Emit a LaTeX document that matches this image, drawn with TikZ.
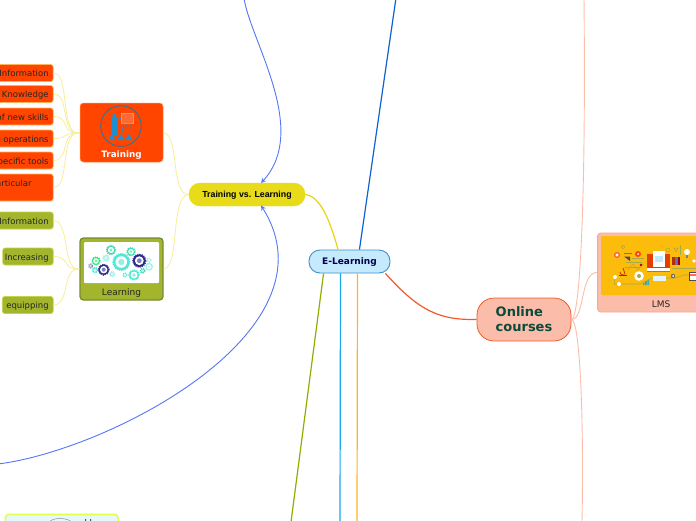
\documentclass[tikz,border=0pt]{standalone}
\usepackage{fontspec}
\setmainfont{DejaVu Sans}
\newfontfamily\libsans{Liberation Sans}
\usetikzlibrary{arrows.meta}
\definecolor{orleaf}{HTML}{FF4500}
\definecolor{orline}{HTML}{FFB25A}
\definecolor{grleaf}{HTML}{A2B52C}
\definecolor{grline}{HTML}{C6D34A}
\definecolor{salmon}{HTML}{FBBDA9}
\definecolor{salline}{HTML}{FBA78F}
\definecolor{redline}{HTML}{F4582A}
\definecolor{yel}{HTML}{E8DC1A}
\definecolor{palelink}{HTML}{F8EE9A}
\definecolor{relink}{HTML}{5577F5}
\definecolor{iconblue}{HTML}{1F8FD0}
\definecolor{teal1}{HTML}{4FE8D6}
\definecolor{teal2}{HTML}{3DDDB0}
\definecolor{navy1}{HTML}{2E2A8C}
\definecolor{lmsbg}{HTML}{FBBC0C}
\definecolor{linkblue}{HTML}{0F62D0}
\definecolor{linkolive}{HTML}{8DB000}
\definecolor{linkcyan}{HTML}{18A8E8}
\definecolor{linkorange}{HTML}{FFB428}
\definecolor{elfill}{HTML}{C5EAFD}
\definecolor{elline}{HTML}{3E92C8}
\definecolor{learnline}{HTML}{7A8A35}
\definecolor{wire}{HTML}{A9A84A}
\definecolor{onlinetext}{HTML}{0B4A3C}
\tikzset{
  leaf/.style={draw=#1,line width=0.7pt,rounded corners=2.5pt,font=\fontsize{8.5}{10}\selectfont,text=black!85,anchor=east,inner sep=0pt,minimum height=17pt,text height=8pt,text depth=1pt},
  orangeleaf/.style={leaf=orline,fill=orleaf},
  greenleaf/.style={leaf=grline,fill=grleaf},
  leaflink/.style={draw=palelink,line width=0.8pt},
  mainlink/.style={line width=1.2pt},
  relation/.style={draw=relink,line width=0.9pt,-{Stealth[length=5pt,width=5pt,open]}},
  sallink/.style={draw=salline!75,line width=0.9pt},
  pill/.style={rounded corners=11pt,inner sep=0pt,align=left},
  card/.style={rounded corners=3.5pt,inner sep=0pt,minimum width=83pt},
}
\newcommand{\gearicon}[4]{%
  \fill[#4] (#1,#2) circle[radius=#3*1pt];
  \draw[#4,line width=1.1pt,dash pattern=on 1.1pt off 1.1pt] (#1,#2) circle[radius=#3*1pt+0.2pt];
  \fill[white] (#1,#2) circle[radius=#3*0.7pt];
  \fill[#4,fill opacity=0.6] (#1,#2) circle[radius=#3*0.38pt];
}
\begin{document}
\begin{tikzpicture}[x=1pt,y=-1pt]
\useasboundingbox (0,0) rectangle (696,520);
\clip (0,0) rectangle (696,520);
\fill[white] (0,0) rectangle (696,520);

% free ends of connectors
\coordinate (topblue) at (396,-2);
\coordinate (botolive) at (291,522);
\coordinate (botcyan) at (340,522);
\coordinate (botorange) at (357,522);
\coordinate (reltop) at (244,-2);
\coordinate (relbot) at (-2,464);
\coordinate (saltop) at (584,-2);
\coordinate (salbot) at (582,522);
\coordinate (hubT) at (78,133);
\coordinate (hubL) at (78,269);

% nodes
\node[pill,draw=elline,fill=elfill,line width=0.9pt,minimum width=81pt,minimum height=23pt,font=\bfseries\fontsize{9}{11}\selectfont,text height=7pt,text depth=1pt,text=blue!30!black] (elearn) at (349.5,261.5) {E-Learning};
\node[pill,fill=yel,draw=yel,minimum width=116pt,minimum height=23pt,font=\libsans\bfseries\fontsize{8.8}{11}\selectfont,text height=7pt,text depth=1pt,text=black] (tvl) at (247,194.5) {Training vs. Learning};
\node[pill,rounded corners=17pt,fill=salmon,draw=redline,line width=0.8pt,minimum width=94pt,minimum height=43pt,font=\bfseries\fontsize{13}{15}\selectfont,text=onlinetext,align=left] (online) at (524,319.5) {Online\\courses};

\node[card,fill=orleaf,draw=orline!70!orleaf,line width=0.5pt,minimum height=59pt] (training) at (121.5,132.5) {};
\node[card,fill=grleaf,draw=learnline,line width=1.3pt,minimum height=62pt] (learning) at (121.5,269) {};
\node[card,fill=salmon,draw=salline,line width=0.8pt,minimum width=110pt,minimum height=79pt,anchor=west] (lms) at (597,272.5) {};

\node[orangeleaf] (o1) at (53.5,73) {\kern20pt Information\kern4.5pt};
\node[orangeleaf] (o2) at (53.5,94) {\kern20pt Knowledge\kern4.5pt};
\node[orangeleaf] (o3) at (53.5,116.5) {\kern20pt of new skills\kern4.5pt};
\node[orangeleaf] (o4) at (53.5,138.5) {\kern20pt operations\kern4.5pt};
\node[orangeleaf] (o5) at (53.5,160.5) {\kern20pt specific tools\kern4.5pt};
\node[orangeleaf,minimum height=27pt,text depth=11pt,text height=8pt] (o6) at (53.5,187.5) {\kern20pt particular\kern21.5pt};
\node[greenleaf] (g1) at (53.5,220.5) {\kern20pt Information\kern4.5pt};
\node[greenleaf] (g2) at (53.5,256.5) {\kern2pt Increasing\kern4.5pt};
\node[greenleaf] (g3) at (53.5,305) {\kern4pt equipping\kern4.5pt};

\node[rounded corners=4pt,fill=cyan!10,draw=lime!70!yellow!70,line width=1.5pt,minimum width=113pt,minimum height=30pt,anchor=north west,inner sep=0pt] (bottombox) at (4.5,513.5) {};

% connectors
\coordinate (eb) at ([xshift=-31pt]elearn.north east);
\coordinate (eg) at ([xshift=15pt]elearn.south west);
\coordinate (ec) at ([xshift=-9pt]elearn.south);
\coordinate (eo) at ([xshift=8pt]elearn.south);
\coordinate (er) at ([xshift=-5pt]elearn.south east);
\coordinate (ey) at ([xshift=-11.5pt]elearn.north);
\draw[mainlink,draw=linkblue] (eb) -- (topblue);
\draw[mainlink,draw=yel!90!orange] (tvl.east) .. controls (320,196) and (330,220) .. (ey);
\draw[mainlink,draw=linkolive] (eg) -- (botolive);
\draw[mainlink,draw=linkcyan] (ec) -- (botcyan);
\draw[mainlink,draw=linkorange] (eo) -- (botorange);
\draw[mainlink,draw=redline] (er) .. controls (420,312) and (440,320) .. (online.west);

\draw[relation] (reltop) .. controls (250,40) and (310,130) .. (261,183);
\draw[relation] (relbot) .. controls (110,450) and (340,330) .. (261,205.5);

\draw[leaflink] (training.east) .. controls (180,135) and (170,195) .. (tvl.west);
\draw[leaflink] (learning.east) .. controls (180,268) and (170,195) .. (tvl.west);

\foreach \n/\y in {o1/73,o2/94,o3/116.5,o4/138.5,o5/160.5,o6/188}{
  \draw[leaflink] (\n.east) .. controls (70,\y) and (60,133) .. (hubT) -- (training.west);
}
\foreach \n/\y in {g1/220.5,g2/256.5,g3/305}{
  \draw[leaflink] (\n.east) .. controls (70,\y) and (62,269) .. (hubL) -- (learning.west);
}

\draw[sallink] (online.east) .. controls (585,320) and (580,272) .. (lms.west);
\draw[sallink] (online.east) .. controls (580,319) and (586,200) .. (saltop);
\draw[sallink] (online.east) .. controls (580,319) and (584,420) .. (salbot);

% Training icon
\draw[iconblue!70!black!90,line width=0.9pt] (121,126) circle[radius=20.3];
\fill[orleaf!80!white] (121,113.3) rectangle (133.3,123.3);
\draw[iconblue!60,line width=0.6pt] (121,113.3) rectangle (133.3,123.3);
\fill[iconblue] (114.3,115.7) circle[radius=2.1];
\fill[iconblue] (111,118) rectangle (117.7,127);
\fill[iconblue] (112,127) rectangle (117,135);
\draw[iconblue,line width=0.8pt] (117,119.5) -- (121,118.5) (124,123.5) -- (121.5,134) (130,123.5) -- (129.5,134) (127,123.5) -- (127,128);
\fill[iconblue] (111.7,136) circle[radius=1.9] (121,136) circle[radius=1.9] (129,136) circle[radius=1.9];
\fill[iconblue] (109,137.5) rectangle (114.5,140) (118,137.5) rectangle (124,140) (126,137.5) rectangle (132,140);
\node[font=\bfseries\fontsize{8.8}{10}\selectfont,text=white,inner sep=0pt] (traintext) at (121.5,155.5) {Training};

% Learning icon
\fill[white,rounded corners=1pt] (84,242) rectangle (159,283);
\gearicon{121.3}{262}{8.3}{teal1}
\gearicon{139.3}{260.7}{6.3}{navy1}
\gearicon{103.7}{269.7}{5.3}{navy1}
\gearicon{96}{261}{4}{teal2!70!green}
\gearicon{111}{250}{4.5}{teal2}
\gearicon{131}{251.7}{4}{teal2}
\gearicon{134}{275}{5}{teal1}
\gearicon{149}{266.7}{3.5}{teal1!60}
\gearicon{90.7}{266}{1.8}{navy1!60}
\gearicon{95}{270}{2.5}{teal1}
\gearicon{142.7}{270.7}{2.2}{teal2}
\gearicon{149}{260}{1.8}{teal1!60}
\gearicon{106}{258}{2.8}{teal1!60}
\gearicon{112.3}{274}{2.3}{teal1!60}
\gearicon{125}{275}{1.8}{teal1}
\node[font=\fontsize{9}{10}\selectfont,text=black!85,inner sep=0pt,text height=8pt,text depth=1pt] (learntext) at (121.5,292) {Learning};

% LMS image
\fill[lmsbg,rounded corners=2pt] (601,236) rectangle (700,295);
\draw[wire,line width=0.6pt] (615,279) -- (614,284) -- (640,284) -- (652,278) (666,278) -- (676,278) -- (684,275) -- (696,275);
\draw[wire,line width=0.5pt] (626,262) -- (642,262) (632,258) -- (644,258) (672,268) -- (696,268) (625,267) -- (640,267) (680,245) -- (680,255);
\draw[wire,line width=0.4pt] (628,270) -- (633,264) -- (638,270) -- (643,264);
\fill[orleaf!90!black] (647,254) rectangle (670,268);
\fill[white] (652.5,251) rectangle (665,267);
\fill[cyan!25] (655,256) rectangle (663,262);
\fill[white] (647,268) rectangle (670,270.5);
\fill[black!50] (647,270.5) rectangle (670,271.3);
\fill[cyan!12] (653,276) rectangle (666,281);
\fill[orleaf!70!black] (672,257) rectangle (675,265);
\fill[navy1!70] (675,257) rectangle (678,265);
\fill[red!60!black] (678,257) rectangle (680,265);
\fill[white] (687,252) circle[radius=3];
\fill[black!50] (686,255) rectangle (688,258);
\fill[white] (639,276) circle[radius=4.8];
\fill[wire] (639,276) circle[radius=2];
\fill[white] (615,277) circle[radius=2] (619,284) circle[radius=2];
\fill[orleaf] (638,254) circle[radius=3];
\fill[white] (638,254) circle[radius=1];
\fill[orleaf!80!white] (617,255) circle[radius=3.2];
\fill[white] (617,255) circle[radius=1.6];
\fill[black!70] (624,256.5) -- (630,256.5) -- (630,261) -- cycle;
\fill[orleaf] (624,252.5) rectangle (632,253.5);
\draw[orleaf!80!black,line width=0.8pt] (623,268) -- (625,274) (620,272) arc[start angle=180,end angle=60,radius=3];
\fill[black!70] (619,275) rectangle (627,276);
\draw[wire,line width=0.6pt] (623,247) circle[radius=1.8];
\fill[red!70!black] (641,265) circle[radius=1.4];
\fill[teal!70] (643,283) rectangle (644.5,285) (645,281) rectangle (647,285) (647.5,279.5) rectangle (649,285);
\fill[black!60] (673,276) circle[radius=2.2];
\fill[white] (673,276) circle[radius=1];
\fill[black!70] (689,272) rectangle (697,281);
\fill[white] (690,273) rectangle (697,280);
\fill[red!60] (690,274) rectangle (697,276);
\fill[white] (694,261) circle[radius=1.8];
\draw[wire,line width=0.5pt] (668,250) circle[radius=2] (674,248) -- (678,248) -- (676,252) -- cycle;
\node[font=\fontsize{9}{10}\selectfont,text=black!85,inner sep=0pt,text height=7pt,text depth=0pt] (lmstext) at (661,304) {LMS};

% Bottom box hint
\draw[black!45,line width=0.5pt] (49,523) .. controls (50,517) and (70,517) .. (72,523);
\fill[black!70] (85,519) rectangle (86,522) (90,519) rectangle (91,522);
\end{tikzpicture}
\end{document}
